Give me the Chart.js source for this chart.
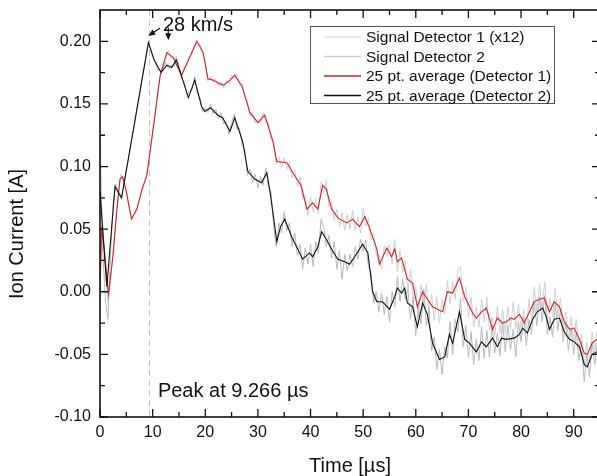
<!DOCTYPE html>
<html>
<head>
<meta charset="utf-8">
<script src="https://cdn.jsdelivr.net/npm/chart.js@4"></script>
<style>
  html, body { margin: 0; padding: 0; background: #fff; overflow: hidden; }
  #wrap { width: 603px; height: 476px; }
</style>
</head>
<body>
<div id="wrap"><canvas id="ionChart" width="603" height="476"></canvas></div>
<script>
// tick labels
const xTicks = [0, 10, 20, 30, 40, 50, 60, 70, 80, 90];
const yTicks = [-0.10, -0.05, 0.00, 0.05, 0.10, 0.15, 0.20];

// raw signals, sampled every 0.5 us
const sampleStep = 0.5;
const signal1 = [
  0.008, 0.055, 0.020, -0.008, 0.006, 0.034, 0.058, 0.080, 0.094, 0.086,
  0.082, 0.067, 0.059, 0.061, 0.067, 0.073, 0.083, 0.087, 0.097, 0.111,
  0.128, 0.142, 0.161, 0.172, 0.183, 0.187, 0.193, 0.186, 0.188, 0.180,
  0.179, 0.171, 0.180, 0.181, 0.188, 0.190, 0.198, 0.197, 0.198, 0.189,
  0.184, 0.168, 0.172, 0.167, 0.170, 0.164, 0.168, 0.163, 0.169, 0.166,
  0.173, 0.170, 0.174, 0.165, 0.166, 0.154, 0.152, 0.140, 0.143, 0.135,
  0.138, 0.134, 0.143, 0.135, 0.135, 0.121, 0.120, 0.102, 0.108, 0.099,
  0.107, 0.098, 0.104, 0.091, 0.098, 0.084, 0.092, 0.074, 0.077, 0.061,
  0.076, 0.064, 0.074, 0.062, 0.088, 0.079, 0.089, 0.068, 0.072, 0.057,
  0.066, 0.052, 0.063, 0.049, 0.062, 0.050, 0.065, 0.049, 0.060, 0.047,
  0.067, 0.052, 0.059, 0.041, 0.047, 0.029, 0.030, 0.018, 0.037, 0.028,
  0.038, 0.022, 0.042, 0.016, 0.033, 0.015, 0.025, 0.000, 0.018, -0.005,
  0.004, -0.020, 0.006, -0.010, 0.006, -0.018, -0.002, -0.023, -0.004, -0.025,
  -0.006, -0.018, 0.009, -0.010, 0.008, -0.006, 0.018, 0.020, -0.008, 0.004,
  -0.020, -0.004, -0.028, -0.012, -0.028, -0.006, -0.024, -0.004, -0.031, -0.020,
  -0.036, -0.011, -0.033, -0.014, -0.034, -0.012, -0.030, -0.008, -0.030, -0.010,
  -0.030, -0.014, -0.032, -0.006, -0.022, 0.004, -0.016, 0.006, -0.015, 0.008,
  -0.022, -0.005, -0.020, 0.003, -0.020, -0.005, -0.031, -0.016, -0.038, -0.020,
  -0.039, -0.022, -0.046, -0.034, -0.060, -0.040, -0.056, -0.032, -0.048, -0.030
];
const signal2 = [
  0.125, 0.035, -0.005, -0.022, 0.030, 0.070, 0.086, 0.078, 0.075, 0.084,
  0.098, 0.108, 0.122, 0.132, 0.146, 0.157, 0.171, 0.181, 0.195, 0.196,
  0.188, 0.184, 0.177, 0.177, 0.178, 0.183, 0.178, 0.181, 0.180, 0.188,
  0.180, 0.170, 0.168, 0.157, 0.160, 0.161, 0.172, 0.158, 0.155, 0.144,
  0.147, 0.143, 0.150, 0.142, 0.146, 0.138, 0.143, 0.134, 0.136, 0.126,
  0.135, 0.142, 0.130, 0.131, 0.117, 0.114, 0.093, 0.098, 0.087, 0.094,
  0.083, 0.092, 0.085, 0.099, 0.083, 0.080, 0.052, 0.036, 0.055, 0.047,
  0.064, 0.049, 0.055, 0.036, 0.047, 0.029, 0.038, 0.018, 0.035, 0.022,
  0.038, 0.020, 0.040, 0.031, 0.058, 0.052, 0.036, 0.045, 0.027, 0.040,
  0.018, 0.033, 0.010, 0.030, 0.017, 0.030, 0.020, 0.036, 0.026, 0.042,
  0.032, 0.041, 0.020, 0.016, -0.009, 0.000, -0.016, -0.001, -0.018, -0.004,
  -0.024, 0.000, -0.012, 0.012, -0.008, 0.010, -0.006, 0.002, -0.022, -0.004,
  -0.035, -0.012, -0.026, 0.002, -0.027, -0.014, -0.047, -0.036, -0.062, -0.046,
  -0.066, -0.044, -0.053, -0.024, -0.050, -0.022, -0.032, -0.005, -0.044, -0.027,
  -0.052, -0.032, -0.058, -0.038, -0.055, -0.028, -0.053, -0.031, -0.052, -0.026,
  -0.049, -0.033, -0.051, -0.025, -0.048, -0.027, -0.046, -0.030, -0.052, -0.024,
  -0.040, -0.020, -0.043, -0.022, -0.034, -0.008, -0.027, -0.004, -0.024, -0.003,
  -0.034, -0.020, -0.036, -0.010, -0.031, -0.014, -0.040, -0.024, -0.047, -0.029,
  -0.050, -0.032, -0.055, -0.040, -0.072, -0.050, -0.068, -0.040, -0.058, -0.040
];

// 25 pt. averages (time in us, current in A)
const avg1Time = [0, 0.3, 0.9, 1.6, 2.5, 3.2, 3.8, 4.3, 4.9, 6.0, 7.0, 8.0, 8.9, 10.0, 11.4, 12.7, 13.9,
  15.5, 16.7, 18.4, 19.6, 20.5, 21.5, 22.8, 23.5, 24.7, 25.6, 27.0, 28.5, 30.0, 31.3, 32.8, 33.6,
  35.5, 36.5, 37.4, 38.2, 39.3, 40.4, 41.4, 42.3, 43.0, 44.0, 45.2, 46.9, 48.0, 49.3, 50.3, 51.2,
  52.6, 53.1, 54.5, 55.4, 56.0, 56.5, 57.3, 58.4, 59.4, 60.3, 61.3, 62.2, 63.2, 64.1, 65.1, 66.0,
  67.0, 68.3, 69.3, 70.8, 71.5, 72.5, 73.4, 74.6, 75.5, 76.5, 77.2, 78.0, 78.7, 79.7, 80.6, 81.6,
  82.5, 83.5, 84.4, 85.4, 86.3, 87.3, 88.2, 89.2, 90.1, 91.1, 92.0, 92.6, 93.5, 94.4, 95.0];
const avg1 = [0.000, 0.052, 0.030, -0.002, 0.030, 0.065, 0.090, 0.092, 0.082, 0.058, 0.066, 0.082, 0.093, 0.127, 0.172, 0.191, 0.187,
  0.173, 0.184, 0.200, 0.191, 0.170, 0.169, 0.166, 0.165, 0.169, 0.173, 0.164, 0.143, 0.135, 0.141, 0.121, 0.104,
  0.103, 0.096, 0.090, 0.085, 0.066, 0.071, 0.066, 0.085, 0.082, 0.066, 0.059, 0.055, 0.058, 0.052, 0.060, 0.051,
  0.034, 0.022, 0.035, 0.028, 0.034, 0.024, 0.027, 0.010, 0.007, -0.012, 0.000, -0.006, -0.012, -0.014, -0.016, 0.000,
  -0.001, 0.011, -0.004, -0.017, -0.021, -0.016, -0.013, -0.030, -0.021, -0.025, -0.024, -0.021, -0.022, -0.018, -0.025, -0.016,
  -0.008, -0.006, -0.005, -0.016, -0.008, -0.012, -0.024, -0.030, -0.029, -0.038, -0.049, -0.050, -0.041, -0.038, -0.036];

const avg2Time = [0, 1.3, 2.85, 4.1, 9.2, 10.3, 11.6, 12.7, 13.6, 14.5, 15.5, 16.8, 18.0, 19.3, 19.9, 21.0,
  22.4, 23.3, 24.7, 25.6, 27.1, 28.1, 29.4, 30.7, 31.7, 32.3, 33.6, 34.3, 35.1, 36.4, 37.6, 38.5,
  39.8, 40.4, 41.4, 42.1, 43.0, 44.0, 45.2, 46.5, 47.4, 48.4, 49.9, 50.9, 51.8, 52.6, 53.7, 55.0,
  56.0, 56.5, 57.3, 57.9, 58.4, 59.4, 60.3, 61.3, 62.2, 63.2, 64.5, 65.5, 66.4, 67.0, 68.3, 69.3,
  70.2, 71.5, 72.5, 73.4, 74.6, 75.5, 76.3, 77.2, 78.7, 79.7, 80.3, 81.2, 82.2, 83.1, 84.1, 84.8,
  85.4, 86.3, 87.3, 88.2, 89.2, 90.1, 91.1, 92.0, 92.6, 93.5, 94.4, 95.0];
const avg2 = [0.080, 0.004, 0.084, 0.075, 0.199, 0.185, 0.175, 0.181, 0.179, 0.185, 0.172, 0.155, 0.169, 0.148, 0.144, 0.147,
  0.141, 0.139, 0.128, 0.139, 0.120, 0.096, 0.090, 0.087, 0.095, 0.080, 0.040, 0.052, 0.058, 0.044, 0.034, 0.026,
  0.031, 0.028, 0.036, 0.048, 0.042, 0.034, 0.026, 0.024, 0.022, 0.028, 0.038, 0.031, 0.000, -0.008, -0.008, -0.014,
  -0.004, 0.003, -0.001, 0.003, -0.009, -0.012, -0.028, -0.009, -0.018, -0.041, -0.054, -0.052, -0.034, -0.041, -0.016, -0.038,
  -0.041, -0.048, -0.040, -0.044, -0.037, -0.044, -0.037, -0.038, -0.037, -0.034, -0.029, -0.033, -0.022, -0.016, -0.013, -0.020,
  -0.030, -0.022, -0.021, -0.032, -0.038, -0.040, -0.044, -0.058, -0.060, -0.050, -0.048, -0.046];

// annotations
const peakTime = 9.266;
const peakLabel = "Peak at 9.266 \u00b5s";
const speedLabel = "28 km/s";

const FONT = "'Liberation Sans', Arial, sans-serif";

const toPoints = (xs, ys) => ys.map((v, i) => ({ x: xs[i], y: v }));
const sampled = (ys) => ys.map((v, i) => ({ x: i * sampleStep, y: v }));

function arrow(ctx, x1, y1, x2, y2) {
  const ang = Math.atan2(y2 - y1, x2 - x1);
  const hl = 7, hw = 3;
  ctx.beginPath();
  ctx.moveTo(x1, y1);
  ctx.lineTo(x2 - Math.cos(ang) * hl * 0.8, y2 - Math.sin(ang) * hl * 0.8);
  ctx.stroke();
  ctx.beginPath();
  ctx.moveTo(x2, y2);
  ctx.lineTo(x2 - hl * Math.cos(ang) + hw * Math.sin(ang), y2 - hl * Math.sin(ang) - hw * Math.cos(ang));
  ctx.lineTo(x2 - hl * Math.cos(ang) - hw * Math.sin(ang), y2 - hl * Math.sin(ang) + hw * Math.cos(ang));
  ctx.closePath();
  ctx.fill();
}

const framePlugin = {
  id: "frame",
  beforeDatasetsDraw(chart) {
    const { ctx, chartArea: a, scales: { x } } = chart;
    const px = Math.round(x.getPixelForValue(peakTime)) + 0.5;
    ctx.save();
    ctx.strokeStyle = "#c4c4c4";
    ctx.lineWidth = 1;
    ctx.setLineDash([6, 4]);
    ctx.beginPath();
    ctx.moveTo(px, a.top);
    ctx.lineTo(px, a.bottom);
    ctx.stroke();
    ctx.restore();
  },
  afterDatasetsDraw(chart) {
    const { ctx, chartArea: a, scales: { x, y } } = chart;
    ctx.save();
    ctx.strokeStyle = "#111";
    ctx.fillStyle = "#111";

    // frame
    ctx.lineWidth = 1.6;
    ctx.strokeRect(a.left, a.top, a.right - a.left, a.bottom - a.top);

    // inward ticks, major + minor
    ctx.lineWidth = 1.3;
    ctx.beginPath();
    for (let v = 0; v <= x.max; v += 5) {
      const p = x.getPixelForValue(v);
      const len = v % 10 === 0 ? 8 : 5;
      ctx.moveTo(p, a.bottom); ctx.lineTo(p, a.bottom - len);
      ctx.moveTo(p, a.top); ctx.lineTo(p, a.top + len);
    }
    for (let k = -4; k <= 8; k++) {
      const v = k * 0.025;
      if (v > y.max) break;
      const p = y.getPixelForValue(v);
      const len = k % 2 === 0 ? 8 : 5;
      ctx.moveTo(a.left, p); ctx.lineTo(a.left + len, p);
      ctx.moveTo(a.right, p); ctx.lineTo(a.right - len, p);
    }
    ctx.stroke();

    // arrows + annotation text
    ctx.lineWidth = 1.2;
    arrow(ctx, x.getPixelForValue(11.39), y.getPixelForValue(0.2104),
               x.getPixelForValue(9.17), y.getPixelForValue(0.2043));
    arrow(ctx, x.getPixelForValue(12.97), y.getPixelForValue(0.2110),
               x.getPixelForValue(12.97), y.getPixelForValue(0.2008));
    ctx.font = "20px " + FONT;
    ctx.textBaseline = "middle";
    ctx.textAlign = "left";
    ctx.fillText(speedLabel, x.getPixelForValue(11.96), y.getPixelForValue(0.2130));
    ctx.fillText(peakLabel, x.getPixelForValue(11.0), y.getPixelForValue(-0.0794));

    // axis titles
    ctx.textAlign = "center";
    ctx.fillText("Time [\u00b5s]", 350, 466);
    ctx.save();
    ctx.translate(17, 234);
    ctx.rotate(-Math.PI / 2);
    ctx.fillText("Ion Current [A]", 0, 0);
    ctx.restore();

    // legend box
    const lx = 310, ly = 26, lw = 244, lh = 77;
    ctx.fillStyle = "#fff";
    ctx.fillRect(lx, ly, lw, lh);
    ctx.strokeStyle = "#555";
    ctx.lineWidth = 1;
    ctx.strokeRect(lx + 0.5, ly + 0.5, lw, lh);
    ctx.font = "15.5px " + FONT;
    ctx.textAlign = "left";
    chart.data.datasets.forEach((ds, i) => {
      const cy = 37 + i * 19.5;
      ctx.strokeStyle = ds.legendColor || ds.borderColor;
      ctx.lineWidth = 1.3;
      ctx.beginPath();
      ctx.moveTo(324, cy); ctx.lineTo(361, cy);
      ctx.stroke();
      ctx.fillStyle = "#111";
      ctx.fillText(ds.label, 366, cy + 1);
    });
    ctx.restore();
  }
};

new Chart(document.getElementById("ionChart").getContext("2d"), {
  type: "line",
  data: {
    datasets: [
      { label: "Signal Detector 1 (x12)", data: sampled(signal1), borderColor: "#d0d0d0",
        legendColor: "#e2e2e2", borderWidth: 1, pointRadius: 0, order: 3 },
      { label: "Signal Detector 2", data: sampled(signal2), borderColor: "#b8b8b8",
        legendColor: "#cccccc", borderWidth: 1, pointRadius: 0, order: 2 },
      { label: "25 pt. average (Detector 1)", data: toPoints(avg1Time, avg1), borderColor: "#c8262b",
        borderWidth: 1.1, pointRadius: 0, order: 1 },
      { label: "25 pt. average (Detector 2)", data: toPoints(avg2Time, avg2), borderColor: "#111111",
        borderWidth: 1.1, pointRadius: 0, order: 0 }
    ]
  },
  options: {
    responsive: false,
    animation: false,
    layout: { padding: { top: 10, right: 3, left: 0, bottom: 0 } },
    plugins: { legend: { display: false }, tooltip: { enabled: false } },
    scales: {
      x: {
        type: "linear", min: 0, max: 95,
        grid: { display: false, drawTicks: false },
        border: { display: false },
        afterBuildTicks: (s) => { s.ticks = xTicks.map((v) => ({ value: v })); },
        afterFit: (s) => { s.height = 59; s.paddingLeft = 0; s.paddingRight = 0; },
        ticks: { color: "#111", font: { family: FONT, size: 16 }, padding: 6,
                 maxRotation: 0, autoSkip: false, callback: (v) => String(v) }
      },
      y: {
        type: "linear", min: -0.10, max: 0.225,
        grid: { display: false, drawTicks: false },
        border: { display: false },
        afterBuildTicks: (s) => { s.ticks = yTicks.map((v) => ({ value: v })); },
        afterFit: (s) => { s.width = 100; s.paddingTop = 0; s.paddingBottom = 0; },
        ticks: { color: "#111", font: { family: FONT, size: 16 }, padding: 9,
                 autoSkip: false, callback: (v) => v.toFixed(2) }
      }
    }
  },
  plugins: [framePlugin]
});
</script>
</body>
</html>
